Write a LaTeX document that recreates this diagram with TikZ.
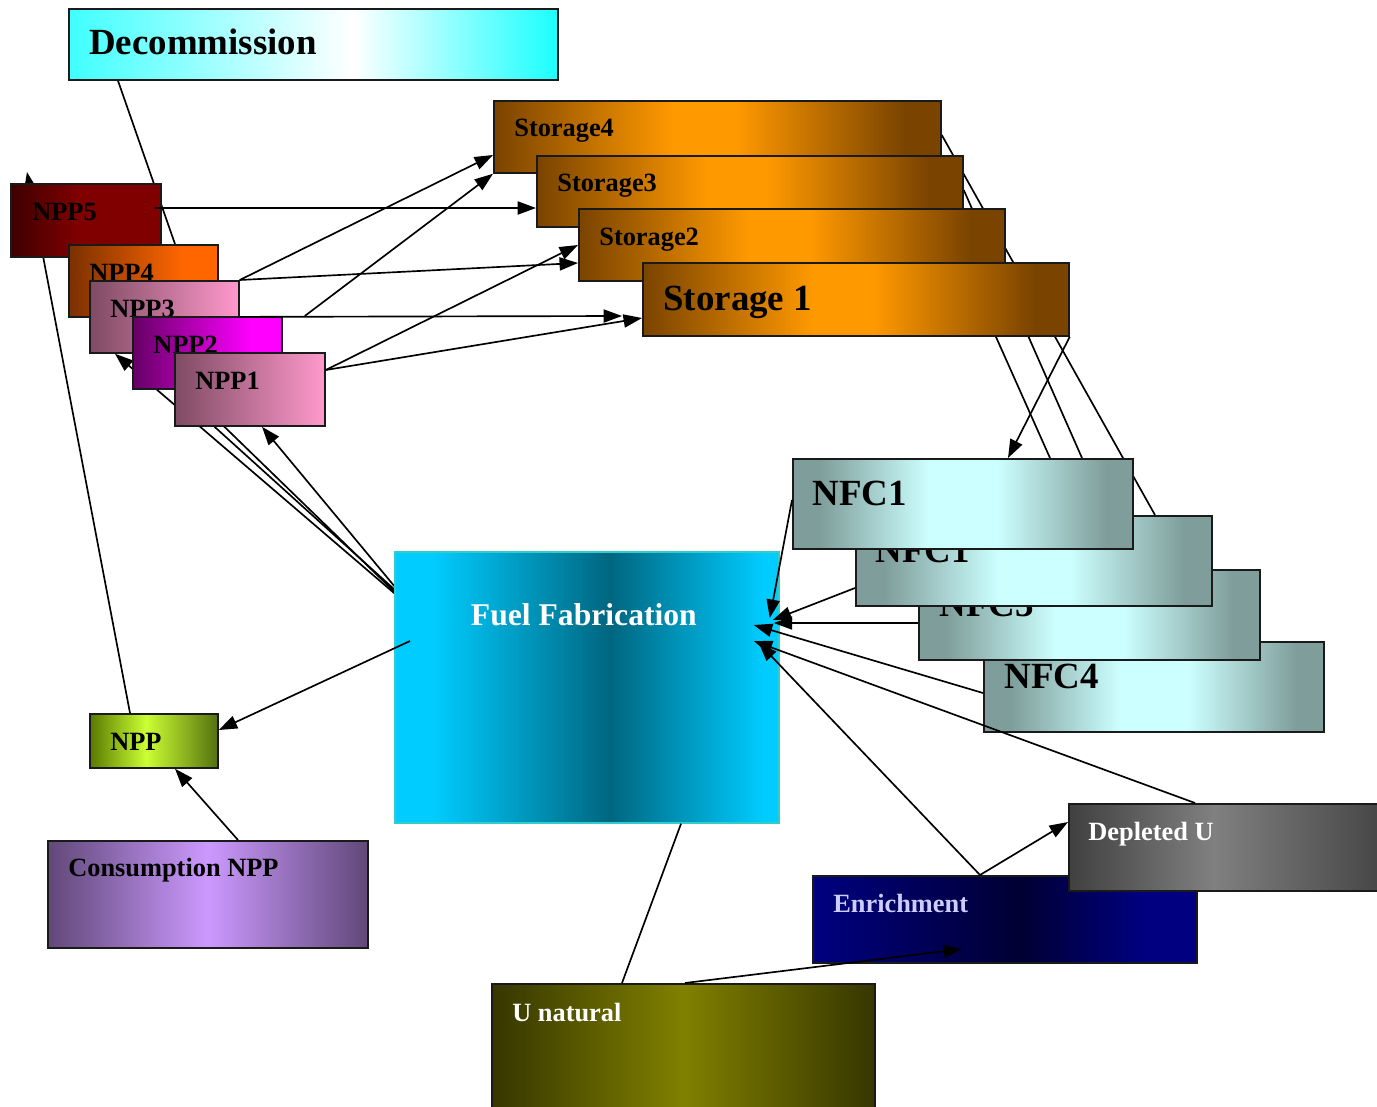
\documentclass[tikz,border=0pt]{standalone}
\usepackage{fontspec}
\setmainfont{Liberation Serif}
\usepackage{tikz}
\usetikzlibrary{arrows.meta,calc}
\pgfdeclarelayer{back}
\pgfsetlayers{back,main}

\definecolor{boxline}{HTML}{1A1A1A}
\definecolor{decL}{HTML}{40FFFF}
\definecolor{decR}{HTML}{1AFFFF}
\definecolor{redD}{HTML}{3D0000}
\definecolor{redM}{HTML}{800000}
\definecolor{brnD}{HTML}{7A3000}
\definecolor{orgM}{HTML}{FF6600}
\definecolor{pnkD}{HTML}{7F4B63}
\definecolor{pnkL}{HTML}{FF99CC}
\definecolor{purD}{HTML}{660066}
\definecolor{purL}{HTML}{FF00FF}
\definecolor{stD}{HTML}{7A4300}
\definecolor{stL}{HTML}{FF9900}
\definecolor{nfcD}{HTML}{7F9E9B}
\definecolor{nfcL}{HTML}{CCFFFF}
\definecolor{ffL}{HTML}{00CCFF}
\definecolor{ffD}{HTML}{006680}
\definecolor{ffline}{HTML}{33CCCC}
\definecolor{nppD}{HTML}{5A7A00}
\definecolor{nppL}{HTML}{CCFF33}
\definecolor{nppR}{HTML}{557010}
\definecolor{conD}{HTML}{604878}
\definecolor{conL}{HTML}{CC99FF}
\definecolor{unD}{HTML}{363600}
\definecolor{unL}{HTML}{808000}
\definecolor{enD}{HTML}{000080}
\definecolor{enM}{HTML}{000033}
\definecolor{enTxt}{HTML}{CCCCFF}
\definecolor{depD}{HTML}{404040}
\definecolor{depL}{HTML}{808080}

\pgfdeclarehorizontalshading{decsh}{100bp}{color(0bp)=(decL); color(25bp)=(decL); color(54bp)=(white); color(75bp)=(decR); color(100bp)=(decR)}
\pgfdeclarehorizontalshading{npp5sh}{100bp}{color(0bp)=(redD); color(25bp)=(redD); color(47bp)=(redM); color(75bp)=(redM); color(100bp)=(redM)}
\pgfdeclarehorizontalshading{npp4sh}{100bp}{color(0bp)=(brnD); color(25bp)=(brnD); color(63bp)=(orgM); color(75bp)=(orgM); color(100bp)=(orgM)}
\pgfdeclarehorizontalshading{pinksh}{100bp}{color(0bp)=(pnkD); color(25bp)=(pnkD); color(75bp)=(pnkL); color(100bp)=(pnkL)}
\pgfdeclarehorizontalshading{npp2sh}{100bp}{color(0bp)=(purD); color(25bp)=(purD); color(65bp)=(purL); color(75bp)=(purL); color(100bp)=(purL)}
\pgfdeclarehorizontalshading{storsh}{100bp}{color(0bp)=(stD); color(25bp)=(stD); color(45bp)=(stL); color(52bp)=(stL); color(71bp)=(stD); color(75bp)=(stD); color(100bp)=(stD)}
\pgfdeclarehorizontalshading{nfcsh}{100bp}{color(0bp)=(nfcD); color(25bp)=(nfcD); color(29bp)=(nfcD); color(45bp)=(nfcL); color(55bp)=(nfcL); color(71bp)=(nfcD); color(75bp)=(nfcD); color(100bp)=(nfcD)}
\pgfdeclarehorizontalshading{ffsh}{100bp}{color(0bp)=(ffL); color(25bp)=(ffL); color(30bp)=(ffL); color(53bp)=(ffD); color(73bp)=(ffL); color(75bp)=(ffL); color(100bp)=(ffL)}
\pgfdeclarehorizontalshading{nppsh}{100bp}{color(0bp)=(nppD); color(25bp)=(nppD); color(47bp)=(nppL); color(75bp)=(nppR); color(100bp)=(nppR)}
\pgfdeclarehorizontalshading{consh}{100bp}{color(0bp)=(conD); color(25bp)=(conD); color(50bp)=(conL); color(75bp)=(conD); color(100bp)=(conD)}
\pgfdeclarehorizontalshading{unsh}{100bp}{color(0bp)=(unD); color(25bp)=(unD); color(50bp)=(unL); color(75bp)=(unD); color(100bp)=(unD)}
\pgfdeclarehorizontalshading{ensh}{100bp}{color(0bp)=(enD); color(25bp)=(enD); color(52bp)=(enM); color(68bp)=(enD); color(75bp)=(enD); color(100bp)=(enD)}
\pgfdeclarehorizontalshading{depsh}{100bp}{color(0bp)=(depD); color(25bp)=(depD); color(47bp)=(depL); color(75bp)=(depD); color(100bp)=(depD)}

\begin{document}
\begin{tikzpicture}[x=0.2mm, y=-0.2mm, >={Triangle[length=10.5pt,width=7.5pt]},
  box/.style={draw=boxline, line width=1pt, anchor=north west, inner sep=0pt},
  sz/.style 2 args={minimum width=#1*0.2mm, minimum height=#2*0.2mm},
  txt/.style={anchor=base west, inner sep=0pt, font=\fontsize{15}{18}\selectfont\bfseries},
  bigtxt/.style={txt, font=\fontsize{21}{25}\selectfont\bfseries},
  conn/.style={line width=0.95pt}]
  \useasboundingbox (0,0) rectangle (1377,1107);

  \node[box, sz={489}{71}, shading=decsh] (dec) at (68,8) {};
  \node[bigtxt] (dec-t) at ([shift={(21,47)}]dec.north west) {Decommission};

  \node[box, sz={150}{73}, shading=npp5sh] (npp5) at (10,183) {};
  \node[txt] (npp5-t) at ([shift={(22,37)}]npp5.north west) {NPP5};
  \node[box, sz={149}{72}, shading=npp4sh] (npp4) at (68,244) {};
  \node[txt] (npp4-t) at ([shift={(21,37)}]npp4.north west) {NPP4};
  \node[box, sz={149}{72}, shading=pinksh] (npp3) at (89,280) {};
  \node[txt] (npp3-t) at ([shift={(21,37)}]npp3.north west) {NPP3};
  \node[box, sz={149}{72}, shading=npp2sh] (npp2) at (132,316) {};
  \node[txt] (npp2-t) at ([shift={(21,37)}]npp2.north west) {NPP2};
  \node[box, sz={150}{73}, shading=pinksh] (npp1) at (174,352) {};
  \node[txt] (npp1-t) at ([shift={(21,37)}]npp1.north west) {NPP1};

  \node[box, sz={447}{72}, shading=storsh] (st4) at (493,100) {};
  \node[txt] (st4-t) at ([shift={(21,37)}]st4.north west) {Storage4};
  \node[box, sz={426}{71}, shading=storsh] (st3) at (536,155) {};
  \node[txt] (st3-t) at ([shift={(21,36)}]st3.north west) {Storage3};
  \node[box, sz={426}{72}, shading=storsh] (st2) at (578,208) {};
  \node[txt] (st2-t) at ([shift={(21,37)}]st2.north west) {Storage2};
  \node[box, sz={426}{73}, shading=storsh] (st1) at (642,262) {};
  \node[bigtxt] (st1-t) at ([shift={(21,48)}]st1.north west) {Storage 1};

  \node[box, sz={340}{90}, shading=nfcsh] (nfc4) at (983,641) {};
  \node[bigtxt] (nfc4-t) at ([shift={(21,47)}]nfc4.north west) {NFC4};
  \node[box, sz={341}{90}, shading=nfcsh] (nfc3) at (918,569) {};
  \node[bigtxt] (nfc3-t) at ([shift={(21,47)}]nfc3.north west) {NFC3};
  \node[box, sz={356}{90}, shading=nfcsh] (nfc2) at (855,515) {};
  \node[bigtxt] (nfc2-t) at ([shift={(20,47)}]nfc2.north west) {NFC1};
  \node[box, sz={340}{90}, shading=nfcsh] (nfc1) at (792,458) {};
  \node[bigtxt] (nfc1-t) at ([shift={(20,47)}]nfc1.north west) {NFC1};

  \node[box, draw=ffline, sz={384}{271}, shading=ffsh] (ff) at (394,551) {};
  \node[txt, anchor=base, font=\fontsize{18}{22}\selectfont\bfseries, text=white] (ff-t) at ([shift={(-3,74)}]ff.north) {Fuel Fabrication};

  \node[box, sz={128}{54}, shading=nppsh] (npp) at (89,713) {};
  \node[txt] (npp-t) at ([shift={(21,37)}]npp.north west) {NPP};
  \node[box, sz={320}{107}, shading=consh] (cons) at (47,840) {};
  \node[txt] (cons-t) at ([shift={(21,36)}]cons.north west) {Consumption NPP};
  \node[box, sz={383}{140}, shading=unsh] (unat) at (491,983) {};
  \node[txt, text=white] (unat-t) at ([shift={(21,38)}]unat.north west) {U natural};
  \node[box, sz={384}{87}, shading=ensh] (enr) at (812,875) {};
  \node[txt, text=enTxt] (enr-t) at ([shift={(21,37)}]enr.north west) {Enrichment};
  \node[box, sz={330}{87}, shading=depsh] (dep) at (1068,803) {};
  \node[txt, text=white] (dep-t) at ([shift={(20,37)}]dep.north west) {Depleted U};

  \begin{pgfonlayer}{back}
    \draw[conn,->] ([shift={(41,0)}]npp.north west) -- ([shift={(17,-11)}]npp5.north west);
    \draw[conn] ([shift={(50,0)}]dec.south west) -- ([shift={(107,0)}]npp4.north west);
    \draw[conn,->] ([shift={(14,54)}]ff.north west) -- ([shift={(26,0)}]npp3.south west);
    \draw[conn] ([shift={(1,39)}]ff.north west) -- ([shift={(22,58)}]npp1.north west);
    \draw[conn] ([shift={(14,54)}]ff.north west) -- ([shift={(28,53)}]npp1.north west);
    \draw[conn,->] ([shift={(16,54)}]ff.north west) -- ([shift={(88,0)}]npp1.south west);
    \draw[conn] ([shift={(0,35)}]st4.north east) -- ([shift={(300,0)}]nfc2.north west);
    \draw[conn] ([shift={(0,35)}]st3.north east) -- ([shift={(290,0)}]nfc1.north west);
    \draw[conn] ([shift={(-53,32)}]st2.north east) -- ([shift={(258,0)}]nfc1.north west);
  \end{pgfonlayer}

  \draw[conn,->] (st1.south east) -- ([shift={(216,0)}]nfc1.north west);
  \draw[conn,->] ([shift={(-7,25)}]npp5.north east) -- ([shift={(0,53)}]st3.north west);
  \draw[conn,->] (npp3.north east) -- ([shift={(0,55)}]st4.north west);
  \draw[conn,->] (npp3.north east) -- ([shift={(0,55)}]st2.north west);
  \draw[conn,->] ([shift={(22,0)}]npp2.north east) -- (st4.south west);
  \draw[conn,->] (npp3.east) -- ([shift={(-20,54)}]st1.north west);
  \draw[conn,->] ([shift={(0,18)}]npp1.north east) -- ([shift={(0,56)}]st1.north west);
  \draw[conn,->] ([shift={(0,18)}]npp1.north east) -- ([shift={(0,37)}]st2.north west);
  \draw[conn,->] ([shift={(16,90)}]ff.north west) -- ([shift={(0,17)}]npp.north east);
  \draw[conn,->] ([shift={(191,0)}]cons.north west) -- ([shift={(86,0)}]npp.south west);
  \draw[conn] ([shift={(287,0)}]ff.south west) -- ([shift={(131,0)}]unat.north west);
  \draw[conn,->] ([shift={(194,0)}]unat.north west) -- ([shift={(150,74)}]enr.north west);
  \draw[conn,->] ([shift={(168,0)}]enr.north west) -- ([shift={(-21,92)}]ff.north east);
  \draw[conn,->] ([shift={(168,0)}]enr.north west) -- ([shift={(0,19)}]dep.north west);
  \draw[conn,->] ([shift={(127,0)}]dep.north west) -- ([shift={(-26,90)}]ff.north east);
  \draw[conn,->] ([shift={(0,42)}]nfc1.north west) -- ([shift={(-10,67)}]ff.north east);
  \draw[conn,->] ([shift={(0,73)}]nfc2.north west) -- ([shift={(-7,69)}]ff.north east);
  \draw[conn,->] ([shift={(0,54)}]nfc3.north west) -- ([shift={(-6,72)}]ff.north east);
  \draw[conn,->] ([shift={(0,52)}]nfc4.north west) -- ([shift={(-26,74)}]ff.north east);
\end{tikzpicture}
\end{document}
